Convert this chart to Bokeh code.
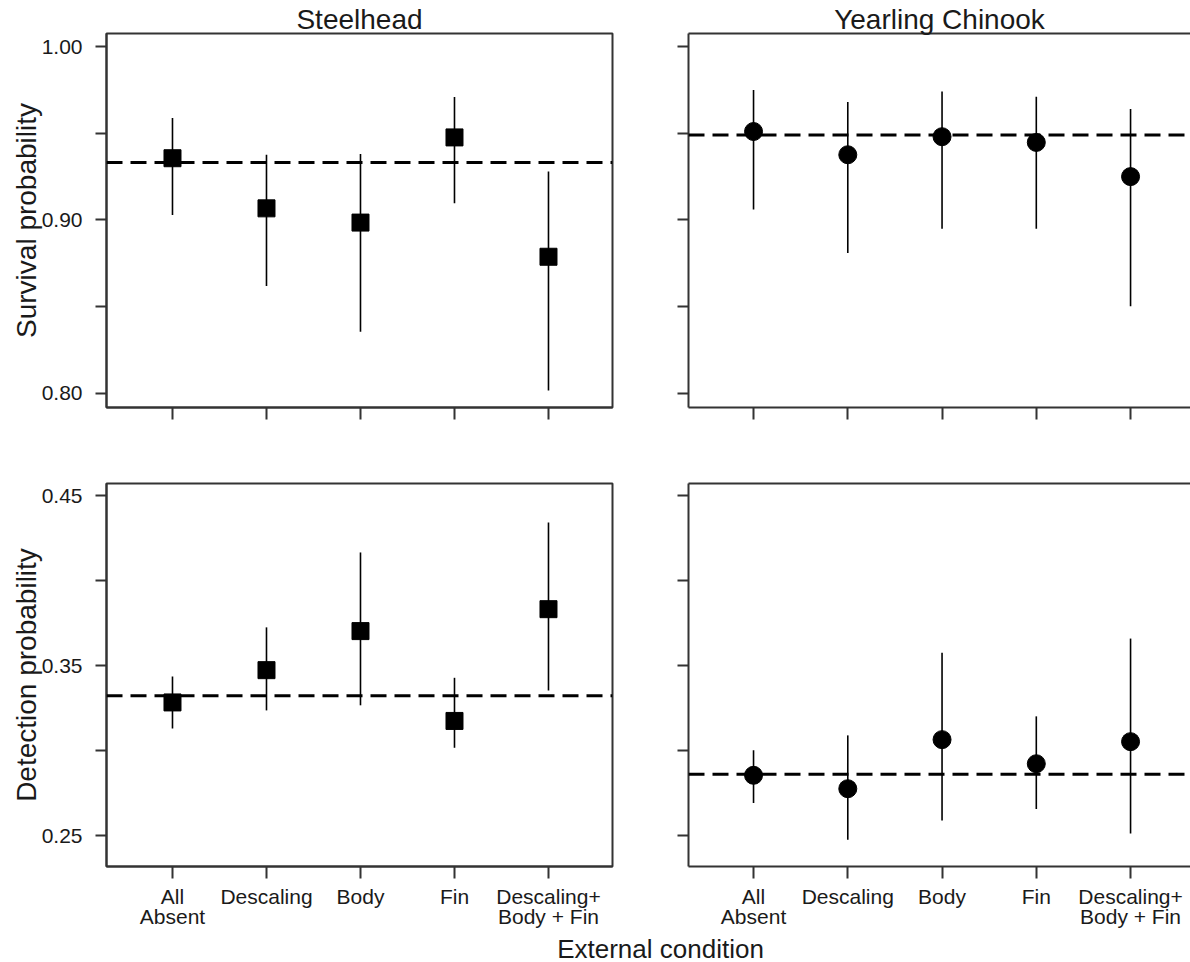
from bokeh.plotting import figure
from bokeh.layouts import column, row
from bokeh.models import (Range1d, FixedTicker, LinearAxis, Span, Label,
                          ColumnDataSource, PrintfTickFormatter)
from bokeh.embed import file_html
from bokeh.resources import INLINE

# ---------------- data ----------------
categories = ["All\nAbsent", "Descaling", "Body", "Fin", "Descaling+\nBody + Fin"]
species = ["Steelhead", "Yearling Chinook"]

steel_surv_est = [0.9356, 0.9067, 0.8985, 0.9476, 0.8788]
steel_surv_lo = [0.9029, 0.8620, 0.8355, 0.9096, 0.8017]
steel_surv_hi = [0.9588, 0.9376, 0.9380, 0.9709, 0.9280]
steel_surv_overall = 0.9332

chin_surv_est = [0.9510, 0.9376, 0.9480, 0.9447, 0.9250]
chin_surv_lo = [0.9060, 0.8810, 0.8950, 0.8950, 0.8503]
chin_surv_hi = [0.9750, 0.9680, 0.9740, 0.9710, 0.9640]
chin_surv_overall = 0.9490

steel_det_est = [0.3284, 0.3474, 0.3704, 0.3175, 0.3833]
steel_det_lo = [0.3131, 0.3237, 0.3267, 0.3017, 0.3354]
steel_det_hi = [0.3437, 0.3726, 0.4167, 0.3429, 0.4344]
steel_det_overall = 0.3323

chin_det_est = [0.2855, 0.2776, 0.3065, 0.2923, 0.3053]
chin_det_lo = [0.2692, 0.2475, 0.2589, 0.2656, 0.2512]
chin_det_hi = [0.3002, 0.3090, 0.3576, 0.3202, 0.3660]
chin_det_overall = 0.2861

surv_ticks = [0.80, 0.90, 1.00]
surv_minor = [0.85, 0.95]
det_ticks = [0.25, 0.35, 0.45]
det_minor = [0.30, 0.40]

# ---------------- style ----------------
FONT = "Liberation Sans"
TXT = "#1a1a1a"
LINE = "#333333"

xs = list(range(1, len(categories) + 1))


def panel(est, lo, hi, overall, marker, msize, xr, yr, yt, ymt, is_left, is_bottom,
          width, height, mb, title=None, ylabel=None, title_dx=0):
    p = figure(width=width, height=height, x_range=Range1d(*xr), y_range=Range1d(*yr),
               output_backend="svg", toolbar_location=None, tools="",
               min_border_top=mb[0], min_border_right=mb[1],
               min_border_bottom=mb[2], min_border_left=mb[3],
               background_fill_color="white", border_fill_color="white")
    p.grid.visible = False

    if title:
        p.title.text = title
        p.title.align = "center"
        p.title.offset = title_dx
        p.title.standoff = -3
        p.title.text_font = FONT
        p.title.text_font_size = "28px"
        p.title.text_font_style = "normal"
        p.title.text_color = TXT

    xa = p.xaxis[0]
    xa.ticker = FixedTicker(ticks=xs, minor_ticks=[])
    if is_bottom:
        xa.major_label_overrides = {x: c for x, c in zip(xs, categories)}
    else:
        xa.major_label_overrides = {x: "" for x in xs}
    xa.major_tick_out = 12
    xa.major_tick_in = 0
    xa.minor_tick_out = 0
    xa.major_tick_line_width = 2
    xa.major_tick_line_color = LINE
    xa.axis_line_width = 2
    xa.axis_line_color = LINE
    xa.major_label_standoff = 6
    xa.major_label_text_font = FONT
    xa.major_label_text_color = TXT
    xa.major_label_text_line_height = 0.9
    xa.major_label_text_font_size = "21px"

    ya = p.yaxis[0]
    ya.ticker = FixedTicker(ticks=yt, minor_ticks=ymt)
    ya.formatter = PrintfTickFormatter(format="%.2f")
    if not is_left:
        ya.major_label_overrides = {t: "" for t in yt}
    ya.major_tick_out = 11
    ya.major_tick_in = 0
    ya.minor_tick_out = 11
    ya.minor_tick_in = 0
    ya.major_tick_line_width = 2
    ya.minor_tick_line_width = 2
    ya.major_tick_line_color = LINE
    ya.minor_tick_line_color = LINE
    ya.axis_line_width = 2
    ya.axis_line_color = LINE
    ya.major_label_standoff = 13
    ya.major_label_text_font = FONT
    ya.major_label_text_color = TXT
    ya.major_label_text_font_size = "21px"
    if ylabel:
        ya.axis_label = ylabel
        ya.axis_label_text_font = FONT
        ya.axis_label_text_font_size = "28px"
        ya.axis_label_text_font_style = "normal"
        ya.axis_label_text_color = TXT
        ya.axis_label_standoff = -3

    if is_left:
        p.outline_line_color = LINE
        p.outline_line_width = 2
    else:
        p.outline_line_color = None
        top = LinearAxis(ticker=FixedTicker(ticks=[]), major_tick_out=0, major_tick_in=0,
                         minor_tick_out=0, minor_tick_in=0, major_label_standoff=0,
                         axis_line_width=2, axis_line_color=LINE)
        p.add_layout(top, "above")

    src = ColumnDataSource(dict(x=xs, est=est, lo=lo, hi=hi))
    p.segment(x0="x", y0="lo", x1="x", y1="hi", source=src,
              line_color="black", line_width=1.6)
    p.add_layout(Span(location=overall, dimension="width", line_color="black",
                      line_width=3, line_dash="16 8"))
    p.scatter(x="x", y="est", source=src, marker=marker, size=msize,
              fill_color="black", line_color="black")
    return p


LEFT_W, RIGHT_W = 650, 540
TOP_H, BOT_H = 445, 486
left_xr = (0.298, 5.681)
right_xr = (0.310, 5.636)
surv_yr = (0.7919, 1.0075)
det_yr = (0.2318, 0.4573)

tl = panel(steel_surv_est, steel_surv_lo, steel_surv_hi, steel_surv_overall, "square", 17,
           left_xr, surv_yr, surv_ticks, surv_minor, True, False,
           LEFT_W, TOP_H, (33, 38, 38, 106), title=species[0], ylabel="Survival probability")
tr = panel(chin_surv_est, chin_surv_lo, chin_surv_hi, chin_surv_overall, "circle", 18,
           right_xr, surv_yr, surv_ticks, surv_minor, False, False,
           RIGHT_W, TOP_H, (33, 0, 38, 38), title=species[1], title_dx=3)
bl = panel(steel_det_est, steel_det_lo, steel_det_hi, steel_det_overall, "square", 17,
           left_xr, det_yr, det_ticks, det_minor, True, True,
           LEFT_W, BOT_H, (38, 38, 64, 106), ylabel="Detection probability")
br = panel(chin_det_est, chin_det_lo, chin_det_hi, chin_det_overall, "circle", 18,
           right_xr, det_yr, det_ticks, det_minor, False, True,
           RIGHT_W, BOT_H, (38, 0, 64, 38))

CAP_W, CAP_H = LEFT_W + RIGHT_W, 31
cap = figure(width=CAP_W, height=CAP_H, x_range=Range1d(0, CAP_W), y_range=Range1d(0, CAP_H),
             x_axis_location=None, y_axis_location=None, min_border=0,
             outline_line_color=None, toolbar_location=None, tools="",
             output_backend="svg", background_fill_color="white", border_fill_color="white")
cap.grid.visible = False
cap.add_layout(Label(x=660, y=14, text="External condition", text_align="center",
                     text_baseline="alphabetic", text_font=FONT,
                     text_font_size="26px", text_color=TXT))

layout = column(row(tl, tr), row(bl, br), cap)

open("out.html", "w").write(file_html(layout, INLINE))
